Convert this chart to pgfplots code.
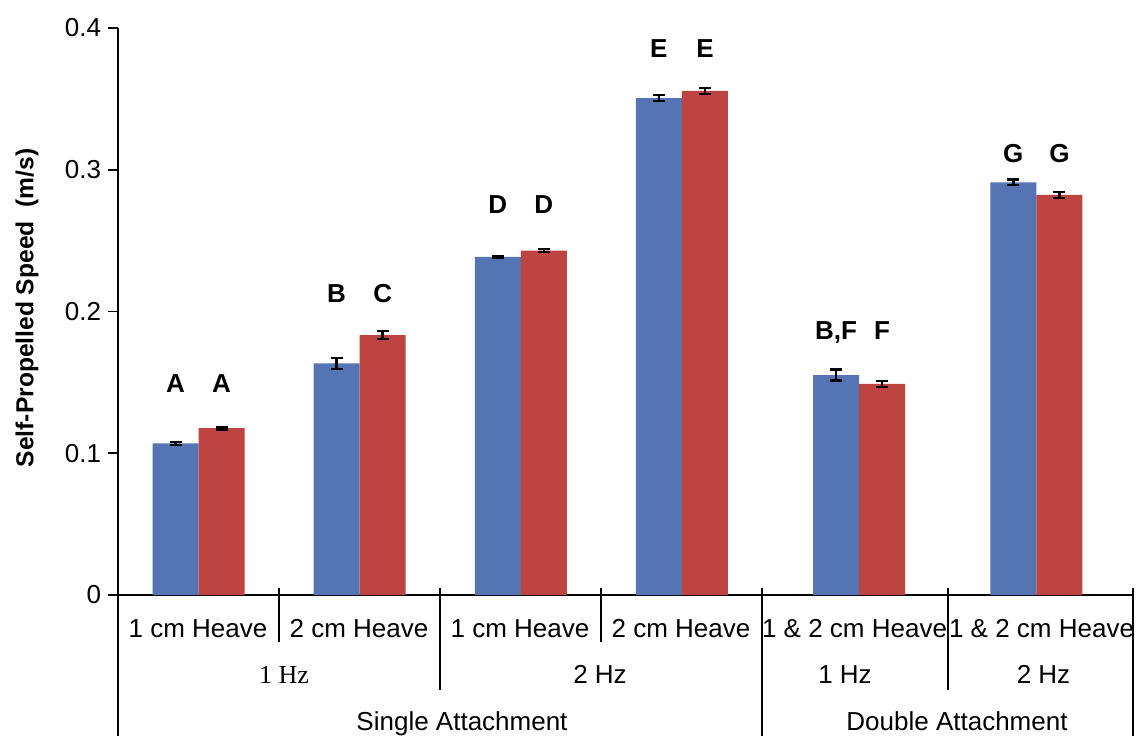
\documentclass[border=0pt]{standalone}
\usepackage{pgfplots}
\pgfplotsset{compat=1.18}
\usepackage{fontspec}
\setmainfont{Liberation Sans}
\newfontfamily\seriffont{Liberation Serif}
\definecolor{barblue}{RGB}{85,116,180}
\definecolor{barred}{RGB}{190,68,65}
\newcommand\fs{\fontsize{13bp}{15bp}\selectfont}
\begin{document}
\begin{tikzpicture}[font=\fs]
\useasboundingbox (-59bp,-70.5bp) rectangle (510bp,297.5bp);
\begin{axis}[
  scale only axis, width=507.5bp, height=283.5bp,
  xmin=0, xmax=6.3, ymin=0, ymax=0.4,
  axis x line=bottom, axis y line=left,
  axis line style={-, line width=0.9bp, black},
  xtick=\empty,
  ytick={0,0.1,0.2,0.3,0.4}, yticklabels={0,0.1,0.2,0.3,0.4},
  tick align=outside, major tick length=5bp,
  tick style={line width=0.9bp, black},
  yticklabel style={font=\fs},
  /pgf/number format/assume math mode=true,
  ybar, bar width=0.2855,
  clip=false,
  error bars/error bar style={line width=1.2bp, black},
  error bars/error mark options={rotate=90, mark size=3bp, line width=1.2bp, black},
]
\addplot[fill=barblue, draw=none, bar shift=-0.14275,
  error bars/.cd, y dir=both, y explicit] table[x=x, y=y, y error=e] {
x    y      e
0.5  0.1070 0.0010
1.5  0.1634 0.0040
2.5  0.2385 0.0008
3.5  0.3506 0.0020
4.6  0.1552 0.0040
5.7  0.2911 0.0020
};
\addplot[fill=barred, draw=none, bar shift=0.14275,
  error bars/.cd, y dir=both, y explicit] table[x=x, y=y, y error=e] {
x    y      e
0.5  0.1177 0.0010
1.5  0.1834 0.0030
2.5  0.2430 0.0010
3.5  0.3556 0.0020
4.6  0.1489 0.0020
5.7  0.2822 0.0022
};
% significance letters
\begin{scope}[every node/.style={font=\bfseries\fs, anchor=base}]
\node at (axis cs:0.357,0.1432) {A};
\node at (axis cs:0.643,0.1432) {A};
\node at (axis cs:1.357,0.2067) {B};
\node at (axis cs:1.643,0.2067) {C};
\node at (axis cs:2.357,0.2688) {D};
\node at (axis cs:2.643,0.2688) {D};
\node at (axis cs:3.357,0.3795) {E};
\node at (axis cs:3.643,0.3795) {E};
\node at (axis cs:4.457,0.1799) {B,F};
\node at (axis cs:4.743,0.1799) {F};
\node at (axis cs:5.557,0.3048) {G};
\node at (axis cs:5.843,0.3048) {G};
\end{scope}
\end{axis}
% y label
\node[rotate=90, font=\bfseries\fontsize{12.3bp}{14bp}\selectfont] at (-45.5bp,143.5bp) {Self-Propelled Speed\ \ (m/s)};
% category separators
\begin{scope}[line width=0.9bp, black]
\draw (0,0) -- (0,-70.5bp);
\draw (80.5bp,3.5bp) -- (80.5bp,-23.5bp);
\draw (161bp,3.5bp) -- (161bp,-47.5bp);
\draw (241.5bp,3.5bp) -- (241.5bp,-23.5bp);
\draw (322bp,3.5bp) -- (322bp,-70.5bp);
\draw (415bp,3.5bp) -- (415bp,-47.5bp);
\draw (507.5bp,3.5bp) -- (507.5bp,-70.5bp);
\end{scope}
% level 1
\begin{scope}[every node/.style={anchor=base, inner sep=0pt, font=\fs}]
\node at (40bp,-21bp) {1 cm Heave};
\node at (120.5bp,-21bp) {2 cm Heave};
\node at (201bp,-21bp) {1 cm Heave};
\node at (281.5bp,-21bp) {2 cm Heave};
\node at (368.25bp,-21bp) {1 \& 2 cm Heave};
\node at (461.75bp,-21bp) {1 \& 2 cm Heave};
% level 2
\node at (83bp,-44bp) {\seriffont 1 Hz};
\node at (241bp,-44bp) {2 Hz};
\node at (363.5bp,-44bp) {1 Hz};
\node at (462.75bp,-44bp) {2 Hz};
% level 3
\node at (172bp,-67.5bp) {Single Attachment};
\node at (419.5bp,-67.5bp) {Double Attachment};
\end{scope}
\end{tikzpicture}
\end{document}
